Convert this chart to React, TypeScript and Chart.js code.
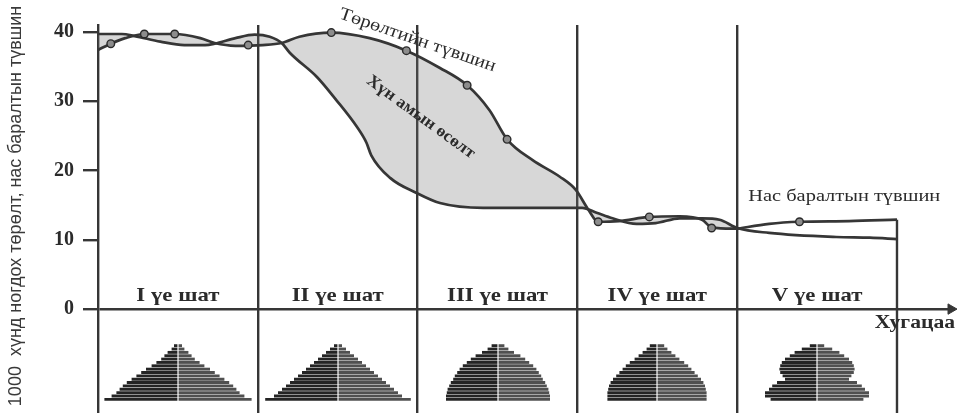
import React, { useEffect, useRef } from 'react';
import { Chart, registerables } from 'chart.js';

Chart.register(...registerables);

// ---------- data ----------
const stageLabels = ['I үе шат', 'II үе шат', 'III үе шат', 'IV үе шат', 'V үе шат'];
const yTicks = [0, 10, 20, 30, 40];
const yTitle = '1000  хүнд ногдох төрөлт, нас баралтын түвшин';
const birthLabel = 'Төрөлтийн түвшин';
const growthLabel = 'Хүн амын өсөлт';
const deathLabel = 'Нас баралтын түвшин';
const timeLabel = 'Хугацаа';

// x is measured in stages (0..5), y in births/deaths per 1000 people
const birthX = [0, 0.08, 0.17, 0.29, 0.48, 0.64, 0.73, 0.86, 1.03, 1.15, 1.26, 1.46, 1.7, 1.93, 2.14, 2.31, 2.45, 2.56, 2.72, 2.89, 2.99, 3.07, 3.13, 3.26, 3.45, 3.64, 3.78, 3.84, 4.0, 4.2, 4.39, 4.7, 5.0];
const birthY = [37.4, 38.3, 39.1, 39.7, 39.7, 39.1, 38.4, 38.0, 38.1, 38.4, 39.3, 39.9, 39.1, 37.3, 34.8, 32.3, 28.7, 24.5, 21.5, 19.1, 17.2, 14.3, 12.6, 12.7, 13.3, 13.4, 12.9, 11.8, 11.6, 12.3, 12.6, 12.7, 12.9];

const deathX = [0, 0.15, 0.23, 0.39, 0.54, 0.67, 0.73, 0.86, 0.98, 1.075, 1.15, 1.2, 1.37, 1.49, 1.62, 1.68, 1.71, 1.83, 1.99, 2.14, 2.41, 2.72, 3.03, 3.12, 3.22, 3.37, 3.49, 3.64, 3.78, 3.89, 4.0, 4.2, 4.62, 4.83, 5.0];
const deathY = [39.7, 39.7, 39.4, 38.6, 38.1, 38.1, 38.3, 39.1, 39.6, 39.3, 38.4, 37.0, 33.5, 30.2, 26.3, 24.0, 22.2, 18.9, 16.8, 15.3, 14.6, 14.6, 14.6, 13.9, 13.1, 12.3, 12.4, 13.1, 13.1, 12.9, 11.7, 11.0, 10.4, 10.3, 10.1];

const markerX = [0.08, 0.29, 0.48, 0.94, 1.46, 1.93, 2.31, 2.56, 3.13, 3.45, 3.84, 4.39];
const markerY = [38.3, 39.7, 39.7, 38.1, 39.9, 37.3, 32.3, 24.5, 12.6, 13.3, 11.7, 12.6];

// population pyramids: share of each age group per sex (%), oldest at top
const ageGroups = ['80+', '75–79', '70–74', '65–69', '60–64', '55–59', '50–54', '45–49', '40–44', '35–39', '30–34', '25–29', '20–24', '15–19', '10–14', '5–9', '0–4'];
const pyramidI = [0.5, 0.8, 1.3, 1.7, 2.1, 2.7, 3.3, 4.0, 4.6, 5.2, 5.8, 6.4, 6.9, 7.3, 7.7, 8.3, 9.2];
const pyramidII = [0.5, 1.0, 1.5, 2.0, 2.5, 3.0, 3.5, 4.0, 4.5, 5.0, 5.5, 6.0, 6.5, 7.0, 7.5, 8.0, 9.1];
const pyramidIII = [0.8, 1.3, 2.0, 2.8, 3.4, 3.9, 4.4, 4.8, 5.1, 5.4, 5.6, 5.9, 6.1, 6.3, 6.4, 6.5, 6.5];
const pyramidIV = [0.9, 1.3, 1.8, 2.3, 2.8, 3.4, 3.9, 4.3, 4.7, 5.1, 5.5, 5.8, 6.0, 6.1, 6.2, 6.2, 6.2];
const pyramidV = [0.9, 1.9, 2.8, 3.4, 4.0, 4.4, 4.6, 4.7, 4.6, 4.3, 4.0, 5.0, 5.6, 6.0, 6.5, 6.5, 5.8];
const pyramids = [pyramidI, pyramidII, pyramidIII, pyramidIV, pyramidV];

// ---------- style ----------
const LINE = '#363636';
const TXT = '#2b2b2b';
const SHADE = 'rgba(110,110,110,0.28)';
const X_MAX = 5.363;
const Y_MIN = -15;
const Y_MAX = 41;
const PYR_TOP = 344;
const PYR_H = 57;
const PYR_RANGE = 10;
const SERIF = '"Liberation Serif"';

const toPts = (xs: number[], ys: number[]) => xs.map((x, i) => ({ x, y: ys[i] }));

const annotate = {
  id: 'annotate',
  afterDatasetsDraw(chart: any) {
    const { ctx, scales } = chart;
    const x = scales.x;
    const y = scales.y;
    const y0 = y.getPixelForValue(0);
    const put = (text: string, px: number, py: number, deg: number, font: string, sx: number, align: CanvasTextAlign, color = TXT) => {
      ctx.save();
      ctx.translate(px, py);
      ctx.rotate((deg * Math.PI) / 180);
      ctx.scale(sx, 1);
      ctx.font = font;
      ctx.fillStyle = color;
      ctx.textAlign = align;
      ctx.textBaseline = 'middle';
      ctx.fillText(text, 0, 0);
      ctx.restore();
    };
    // vertical axis title
    put(yTitle, 16, 206, -90, '18px "Liberation Sans"', 1, 'center', '#3a3a3a');
    stageLabels.forEach((s, i) =>
      put(s, x.getPixelForValue(i + 0.5), y0 - 13, 0, `bold 19px ${SERIF}`, 1.2, 'center')
    );
    put(timeLabel, chart.chartArea.right, y0 + 14, 0, `bold 18px ${SERIF}`, 1.2, 'right');
    put(birthLabel, x.getPixelForValue(2.0), y.getPixelForValue(38.8), 19, `18px ${SERIF}`, 1.12, 'center');
    put(growthLabel, x.getPixelForValue(2.02), y.getPixelForValue(27.7), 36, `bold 17px ${SERIF}`, 1.04, 'center');
    put(deathLabel, x.getPixelForValue(4.67), y.getPixelForValue(16.2), 0, `17px ${SERIF}`, 1.2, 'center');
  },
};

const centerLine = {
  id: 'centerLine',
  afterDatasetsDraw(chart: any) {
    const { ctx, chartArea, scales } = chart;
    const cx = scales.x.getPixelForValue(0);
    ctx.save();
    ctx.strokeStyle = '#ffffff';
    ctx.lineWidth = 1.2;
    ctx.beginPath();
    ctx.moveTo(cx, chartArea.top);
    ctx.lineTo(cx, chartArea.bottom);
    ctx.stroke();
    ctx.restore();
  },
};

export default function App() {
  const mainRef = useRef<HTMLCanvasElement | null>(null);
  const pyrRefs = useRef<(HTMLCanvasElement | null)[]>([]);

  useEffect(() => {
    const charts: Chart[] = [];
    const birthPts = toPts(birthX, birthY);
    const birthMain = birthPts.filter((p) => p.x <= 4);
    const birthV = birthPts.filter((p) => p.x >= 4);
    const deathPts = toPts(deathX, deathY);
    const markerPts = toPts(markerX, markerY);
    const lastBirth = birthY[birthY.length - 1];

    const lineBase = {
      borderColor: LINE,
      borderWidth: 2.7,
      pointRadius: 0,
      cubicInterpolationMode: 'monotone' as const,
    };

    const main = new Chart(mainRef.current as HTMLCanvasElement, {
      type: 'line',
      data: {
        datasets: [
          { ...lineBase, label: birthLabel, data: birthMain, fill: { target: 2, above: SHADE, below: SHADE } } as any,
          { ...lineBase, label: birthLabel + ' (V)', data: birthV, fill: false },
          { ...lineBase, label: deathLabel, data: deathPts, fill: false },
          {
            type: 'scatter',
            label: 'markers',
            data: markerPts,
            pointRadius: 3.8,
            pointBackgroundColor: '#8c8c8c',
            pointBorderColor: '#2a2a2a',
            pointBorderWidth: 1.4,
            showLine: false,
            order: -1,
          } as any,
          {
            label: 'boundary',
            data: [
              { x: 5, y: lastBirth },
              { x: 5, y: Y_MIN },
            ],
            borderColor: LINE,
            borderWidth: 2.4,
            pointRadius: 0,
            fill: false,
          },
          {
            label: 'arrow',
            data: [{ x: X_MAX - 0.025, y: 0 }],
            pointStyle: 'triangle',
            rotation: 90,
            pointRadius: 6,
            pointBackgroundColor: LINE,
            pointBorderColor: LINE,
            showLine: false,
            clip: false,
            order: -1,
          } as any,
        ],
      },
      options: {
        responsive: false,
        animation: false,
        layout: { autoPadding: false, padding: { top: 25, right: 3, left: 0, bottom: 0 } },
        plugins: {
          legend: { display: false },
          tooltip: { enabled: false },
          filler: { drawTime: 'beforeDatasetsDraw' },
        } as any,
        scales: {
          x: {
            type: 'linear',
            min: 0,
            max: X_MAX,
            ticks: { display: false },
            border: { display: false },
            grid: {
              color: (c: any) => (c.tick && c.tick.value > 0 && c.tick.value < 5 ? LINE : 'rgba(0,0,0,0)'),
              lineWidth: 2.4,
              drawTicks: false,
            },
            afterBuildTicks: (s: any) => {
              s.ticks = [0, 1, 2, 3, 4, 5].map((v) => ({ value: v }));
            },
            afterFit: (s: any) => {
              s.height = 0;
            },
          },
          y: {
            type: 'linear',
            min: Y_MIN,
            max: Y_MAX,
            afterBuildTicks: (s: any) => {
              s.ticks = yTicks.map((v) => ({ value: v }));
            },
            ticks: {
              font: { family: 'Liberation Serif', size: 20, weight: 'bold' },
              color: TXT,
              padding: 9,
            },
            grid: {
              color: (c: any) => (c.tick && c.tick.value === 0 ? LINE : 'rgba(0,0,0,0)'),
              tickColor: LINE,
              tickLength: 15,
              lineWidth: 2.4,
            },
            border: { color: LINE, width: 2.4 },
            title: { display: false, text: yTitle },
            afterFit: (s: any) => {
              s.width = 98;
              s.paddingTop = 0;
              s.paddingBottom = 0;
            },
          },
        },
      } as any,
      plugins: [annotate],
    });
    charts.push(main);

    const xs = main.scales.x;
    pyramids.forEach((vals, i) => {
      const cv = pyrRefs.current[i];
      if (!cv) return;
      const left = xs.getPixelForValue(i);
      const right = xs.getPixelForValue(i + 1);
      cv.style.left = left + 'px';
      cv.width = Math.round(right - left);
      cv.height = PYR_H;
      const c = new Chart(cv, {
        type: 'bar',
        data: {
          labels: ageGroups,
          datasets: [
            { label: 'Эрэгтэй', data: vals.map((v) => -v), backgroundColor: '#242424', barPercentage: 0.86, categoryPercentage: 1 },
            { label: 'Эмэгтэй', data: vals, backgroundColor: '#505050', barPercentage: 0.86, categoryPercentage: 1 },
          ],
        },
        options: {
          indexAxis: 'y',
          responsive: false,
          animation: false,
          layout: { padding: 0 },
          plugins: { legend: { display: false }, tooltip: { enabled: false } },
          scales: {
            x: { min: -PYR_RANGE, max: PYR_RANGE, display: false, stacked: true },
            y: { display: false, stacked: true },
          },
        } as any,
        plugins: [centerLine],
      });
      charts.push(c);
    });

    return () => charts.forEach((c) => c.destroy());
  }, []);

  return (
    <div style={{ position: 'fixed', left: 0, top: 0, width: 958, height: 413, background: '#fff', overflow: 'hidden' }}>
      <canvas ref={mainRef} width={958} height={413} style={{ position: 'absolute', left: 0, top: 0 }} />
      {pyramids.map((_, i) => (
        <canvas
          key={i}
          ref={(el) => {
            pyrRefs.current[i] = el;
          }}
          width={160}
          height={PYR_H}
          style={{ position: 'absolute', top: PYR_TOP, left: 98 + 160 * i }}
        />
      ))}
    </div>
  );
}
